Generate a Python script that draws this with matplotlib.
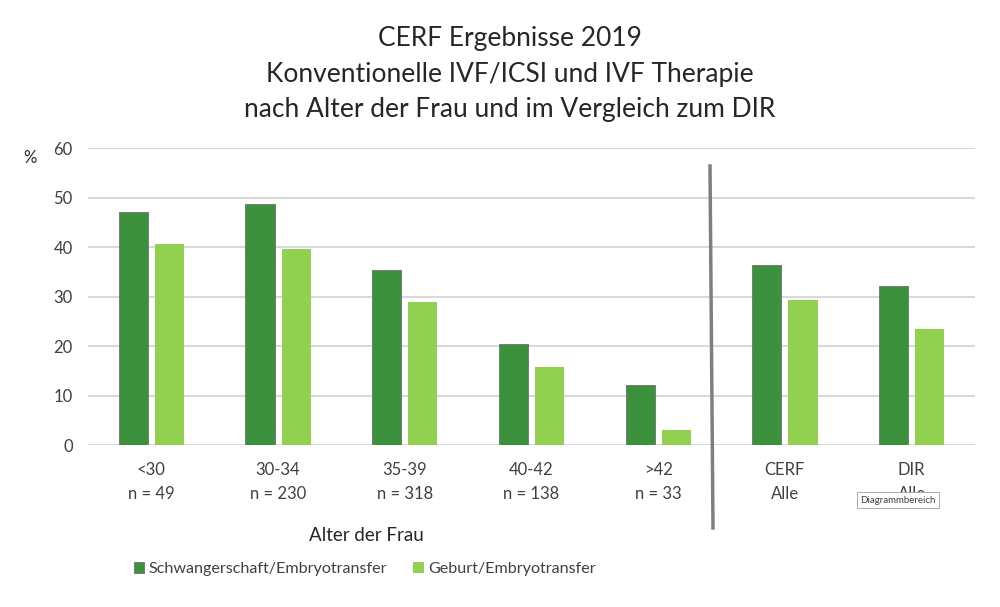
import matplotlib
matplotlib.use("Agg")
import matplotlib.pyplot as plt
import numpy as np

categories = ["<30\nn = 49", "30-34\nn = 230", "35-39\nn = 318", "40-42\nn = 138",
              ">42\nn = 33", "CERF\nAlle", "DIR\nAlle"]
schwangerschaft = [47.1, 48.8, 35.5, 20.5, 12.2, 36.5, 32.2]
geburt = [40.7, 39.6, 28.9, 15.9, 3.0, 29.4, 23.4]
series_names = ["Schwangerschaft/Embryotransfer", "Geburt/Embryotransfer"]
yticks = [0, 10, 20, 30, 40, 50, 60]
title = "CERF Ergebnisse 2019\nKonventionelle IVF/ICSI und IVF Therapie\nnach Alter der Frau und im Vergleich zum DIR"

plt.rcParams['font.family'] = ['Lato', 'DejaVu Sans']

dark = "#3c923c"
light = "#92d050"
textc = "#404040"

fig = plt.figure(figsize=(10, 6.07), dpi=100)
ax = fig.add_axes([0.088, 0.2664, 0.887, 0.4893])

x = np.arange(len(categories))
w = 0.23
gap = 0.055
ax.bar(x - (w + gap) / 2, schwangerschaft, w, color=dark, edgecolor="#6f6f6f", linewidth=0.6, zorder=3,
       label=series_names[0])
ax.bar(x + (w + gap) / 2, geburt, w, color=light, zorder=3, label=series_names[1])

ax.set_xlim(-0.5, len(categories) - 0.5)
ax.set_ylim(0, 60)
ax.set_yticks(yticks)
ax.set_yticklabels([str(t) for t in yticks], fontsize=12, color=textc)
ax.set_xticks(x)
ax.set_xticklabels(categories, fontsize=12, color=textc, linespacing=1.65)
ax.tick_params(length=0)
ax.tick_params(axis='x', pad=12)
ax.tick_params(axis='y', pad=11)
ax.yaxis.grid(True, color="#d9d9d9", linewidth=1.5, zorder=0)
ax.set_axisbelow(True)
for s in ax.spines.values():
    s.set_visible(False)

fig.text(0.51, 0.957, title, ha="center", va="top", fontsize=19, color="#262626", linespacing=1.52)
fig.text(0.03, 0.74, "%", ha="center", va="center", fontsize=12, color="#262626")
fig.text(0.366, 0.118, "Alter der Frau", ha="center", va="center", fontsize=13.5, color="#262626")

# divider line
fig.add_artist(plt.Line2D([0.710, 0.713], [1 - 166 / 607, 1 - 528 / 607], color="#7f7f7f", linewidth=2.5))

leg = fig.legend(loc="center left", bbox_to_anchor=(0.119, 0.062), ncol=2, frameon=False,
                 fontsize=11.6, handlelength=0.65, handleheight=0.65, handletextpad=0.3, columnspacing=1.6)
for t in leg.get_texts():
    t.set_color(textc)

fig.text(0.898, 0.176, "Diagrammbereich", ha="center", va="center", fontsize=7, color="#404040",
         bbox=dict(boxstyle="square,pad=0.35", facecolor="white", edgecolor="#a0a0a0", linewidth=0.6))

fig.savefig("out.png", dpi=100, facecolor="white")
